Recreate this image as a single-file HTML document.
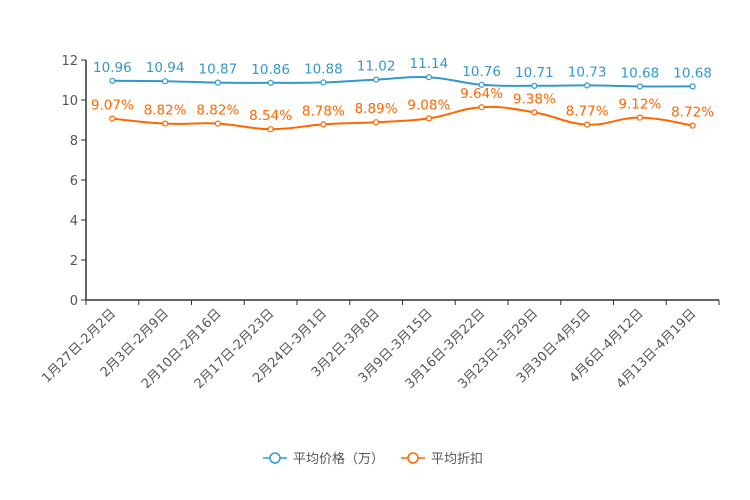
<!DOCTYPE html>
<html><head><meta charset="utf-8"><style>
body{margin:0;background:#fff;}
svg{display:block;font-family:"DejaVu Sans","Noto Sans CJK SC",sans-serif;}
</style></head><body>
<svg id="chart" width="750" height="500"></svg>
<script>
const categories=["1月27日-2月2日","2月3日-2月9日","2月10日-2月16日","2月17日-2月23日","2月24日-3月1日","3月2日-3月8日","3月9日-3月15日","3月16日-3月22日","3月23日-3月29日","3月30日-4月5日","4月6日-4月12日","4月13日-4月19日"];
const priceValues=[10.96,10.94,10.87,10.86,10.88,11.02,11.14,10.76,10.71,10.73,10.68,10.68];
const discountValues=[9.07,8.82,8.82,8.54,8.78,8.89,9.08,9.64,9.38,8.77,9.12,8.72];
const yTicks=[0,2,4,6,8,10,12];
const NS="http://www.w3.org/2000/svg";
const svg=document.getElementById('chart');
const X0=86,X1=719,Y0=300,Y1=60,YMAX=12;
const bw=(X1-X0)/categories.length;
const xAt=i=>X0+bw*(i+0.5);
const yAt=v=>Y0-(v/YMAX)*(Y0-Y1);
function mk(t,a){const e=document.createElementNS(NS,t);for(const k in a)e.setAttribute(k,a[k]);svg.appendChild(e);return e;}
let ax=mk('line',{x1:X0,y1:Y1,x2:X0,y2:Y0,stroke:'#333','stroke-width':1.5});


let xa=mk('line',{x1:X0,y1:Y0,x2:X1,y2:Y0,stroke:'#333','stroke-width':1.5});


yTicks.forEach(v=>{
  const y=yAt(v);
  mk('line',{x1:X0-5,y1:y,x2:X0,y2:y,stroke:'#333'});
  const t=mk('text',{x:X0-8,y:y+5,'text-anchor':'end','font-size':13,fill:'#555'});
  t.textContent=v;
  
  
});
for(let i=0;i<=categories.length;i++){const x=X0+bw*i;mk('line',{x1:x,y1:Y0,x2:x,y2:Y0+5,stroke:'#333'});}
categories.forEach((c,i)=>{
  const x=xAt(i)+4,y=Y0+14;
  const t=mk('text',{x:x,y:y,'text-anchor':'end','font-size':13,fill:'#555',transform:`rotate(-45 ${x} ${y})`});
  t.textContent=c;
  
  
});
function smooth(pts){
  let d=`M${pts[0][0]},${pts[0][1]}`;
  for(let i=0;i<pts.length-1;i++){
    const p0=pts[i-1]||pts[i],p1=pts[i],p2=pts[i+1],p3=pts[i+2]||p2;
    const s=0.2;
    d+=` C${p1[0]+(p2[0]-p0[0])*s},${p1[1]+(p2[1]-p0[1])*s} ${p2[0]-(p3[0]-p1[0])*s},${p2[1]-(p3[1]-p1[1])*s} ${p2[0]},${p2[1]}`;
  }
  return d;
}
function series(vals,color,name,fmt){
  const pts=vals.map((v,i)=>[xAt(i),yAt(v)]);
  const p=mk('path',{d:smooth(pts),fill:'none',stroke:color,'stroke-width':2});
  
  
  pts.forEach((q,i)=>{
    const c=mk('circle',{cx:q[0],cy:q[1],r:2.5,fill:'#fff',stroke:color,'stroke-width':1.2});
    
    
    const t=mk('text',{x:q[0],y:q[1]-9,'text-anchor':'middle','font-size':13.5,fill:color});
    t.textContent=fmt(vals[i]);
    
    
  });
}
series(priceValues,'#3398cc','price',v=>v.toFixed(2));
series(discountValues,'#ff6600','discount',v=>v.toFixed(2)+'%');
function legend(x,color,label,name){
  const g=document.createElementNS(NS,'g');svg.appendChild(g);
  
  
  const l=document.createElementNS(NS,'line');
  [['x1',x],['y1',458],['x2',x+24],['y2',458],['stroke',color],['stroke-width',1.5]].forEach(a=>l.setAttribute(a[0],a[1]));g.appendChild(l);
  const c=document.createElementNS(NS,'circle');
  [['cx',x+12],['cy',458],['r',5],['fill','#fff'],['stroke',color],['stroke-width',1.5]].forEach(a=>c.setAttribute(a[0],a[1]));g.appendChild(c);
  const t=document.createElementNS(NS,'text');
  [['x',x+30],['y',463],['font-size',13],['fill','#555']].forEach(a=>t.setAttribute(a[0],a[1]));t.textContent=label;g.appendChild(t);
}
legend(263,'#3398cc','平均价格（万）','legend-price');
legend(401,'#ff6600','平均折扣','legend-discount');
</script>
</body></html>
